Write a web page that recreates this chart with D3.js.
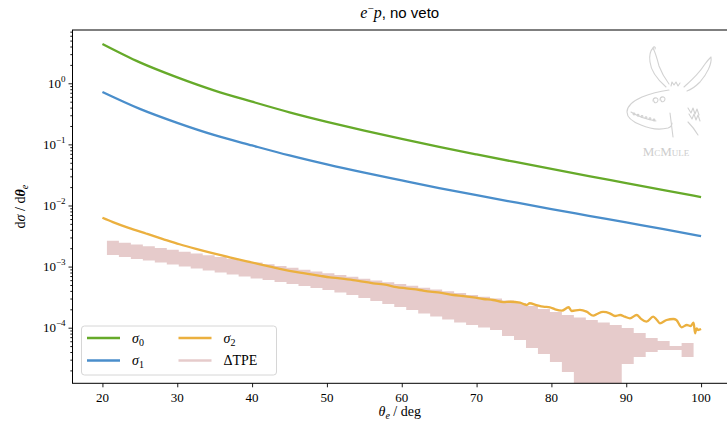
<!DOCTYPE html>
<html>
<head>
<meta charset="utf-8">
<script src="https://cdn.jsdelivr.net/npm/d3@7"></script>
<style>
  body { margin: 0; background: #fff; }
  svg { display: block; }
  .serif { font-family: "Liberation Serif", "DejaVu Serif", serif; }
  .sans { font-family: "Liberation Sans", "DejaVu Sans", sans-serif; }
</style>
</head>
<body>
<svg id="chart" width="727" height="430"></svg>
<script>
// ---- data -------------------------------------------------------------
// scattering angle theta_e (deg) for the smooth LO / NLO curves
const angles = [20, 25, 30, 35, 40, 45, 50, 55, 60, 65, 70, 75, 80, 85, 90, 95, 100];
const sigma0 = [4.4, 2.2, 1.25, 0.76, 0.50, 0.335, 0.234, 0.168, 0.123, 0.091, 0.0685, 0.052, 0.0396, 0.0303, 0.0233, 0.0179, 0.0137];
const sigma1 = [0.72, 0.381, 0.225, 0.1414, 0.096, 0.066, 0.047, 0.0344, 0.0257, 0.0193, 0.01473, 0.01134, 0.00875, 0.00679, 0.00527, 0.0041, 0.00316];

// NNLO contribution (Monte-Carlo, fluctuates at large angles)
const sigma2Angles = [20.0, 21.4, 23.5, 25.9, 28.0, 30.3, 32.5, 34.7, 37.0, 39.3, 41.5, 43.7, 46.4, 49.1, 50.4,
  51.7, 53.5, 54.8, 56.2, 58.0, 59.3, 60.6, 62.4, 63.8, 65.1, 66.9, 68.2, 69.6, 70.9, 72.2, 73.6, 74.5, 75.8,
  76.7, 77.1, 78.0, 78.9, 79.8, 80.5, 81.4, 82.3, 82.7, 83.8, 84.7, 85.6, 86.1, 86.9, 87.8, 88.5, 89.2, 89.8,
  90.5, 91.4, 91.9, 92.7, 93.6, 94.1, 94.5, 95.4, 96.3, 96.7, 97.4, 98.1, 98.6, 99.0, 99.2, 99.4, 99.6, 100.0];
const sigma2 = [6.3e-3, 5.35e-3, 4.3e-3, 3.45e-3, 2.85e-3, 2.32e-3, 1.95e-3, 1.66e-3, 1.42e-3, 1.22e-3, 1.06e-3, 9.2e-4, 7.95e-4, 7.05e-4, 6.68e-4,
  6.43e-4, 6.03e-4, 5.66e-4, 5.33e-4, 5.00e-4, 4.62e-4, 4.41e-4, 4.14e-4, 3.88e-4, 3.74e-4, 3.43e-4, 3.30e-4, 3.14e-4, 2.95e-4, 2.84e-4, 2.62e-4, 2.66e-4, 2.565e-4,
  2.35e-4, 2.51e-4, 2.35e-4, 2.21e-4, 2.16e-4, 2.00e-4, 1.90e-4, 2.16e-4, 1.876e-4, 1.95e-4, 1.83e-4, 1.572e-4, 1.676e-4, 1.81e-4, 1.72e-4, 1.554e-4, 1.614e-4, 1.514e-4,
  1.424e-4, 1.614e-4, 1.424e-4, 1.253e-4, 1.514e-4, 1.336e-4, 1.18e-4, 1.336e-4, 1.388e-4, 1.336e-4, 1.015e-4, 1.107e-4, 1.066e-4, 1.207e-4, 8.10e-5, 9.78e-5, 9.17e-5, 9.5e-5];

// two-photon-exchange uncertainty band: bin edges and band limits per bin
const tpeEdges = [20.6, 22.2, 23.8, 25.4, 27.0, 28.6, 30.2, 31.8, 33.4, 35.0, 36.6, 38.2, 39.8, 41.4, 43.0, 44.6, 46.2,
  47.8, 49.4, 51.0, 52.6, 54.2, 55.8, 57.4, 59.0, 60.6, 62.2, 63.8, 65.4, 67.0, 68.6, 70.2, 71.8, 73.4, 75.0, 76.6,
  78.2, 79.8, 81.4, 83.0, 84.6, 86.2, 87.8, 89.4, 91.0, 92.6, 94.2, 95.8, 97.4, 99.0];
const tpeHigh = [2.64e-3, 2.46e-3, 2.30e-3, 2.15e-3, 2.01e-3, 1.88e-3, 1.75e-3, 1.64e-3, 1.53e-3, 1.43e-3,
  1.34e-3, 1.25e-3, 1.17e-3, 1.09e-3, 1.02e-3, 9.53e-4, 8.91e-4, 8.32e-4, 7.78e-4, 7.27e-4,
  6.79e-4, 6.34e-4, 5.93e-4, 5.54e-4, 5.18e-4, 4.84e-4, 4.52e-4, 4.22e-4, 3.95e-4, 3.69e-4,
  3.44e-4, 3.22e-4, 3.01e-4, 2.79e-4, 2.54e-4, 2.27e-4, 2.02e-4, 1.81e-4, 1.61e-4, 1.47e-4,
  1.34e-4, 1.22e-4, 1.11e-4, 9.89e-5, 8.19e-5, 6.78e-5, 6.05e-5, 5.02e-5, 5.62e-5];
const tpeLow = [1.55e-3, 1.44e-3, 1.33e-3, 1.26e-3, 1.17e-3, 1.08e-3, 1.00e-3, 9.31e-4, 8.63e-4, 8.00e-4,
  7.43e-4, 6.89e-4, 6.38e-4, 6.03e-4, 5.60e-4, 5.19e-4, 4.82e-4, 4.47e-4, 4.14e-4, 3.77e-4,
  3.43e-4, 3.06e-4, 2.73e-4, 2.44e-4, 2.18e-4, 1.95e-4, 1.71e-4, 1.52e-4, 1.36e-4, 1.22e-4,
  1.11e-4, 1.01e-4, 9.17e-5, 7.31e-5, 6.29e-5, 4.65e-5, 3.71e-5, 2.74e-5, 1.88e-5, 5e-6,
  5e-6, 5e-6, 5e-6, 2.55e-5, 3.31e-5, 4.00e-5, 4.31e-5, 4.31e-5, 3.31e-5];

const xTicks = [20, 30, 40, 50, 60, 70, 80, 90, 100];
const yTickExponents = [0, -1, -2, -3, -4];

// ---- layout -----------------------------------------------------------
const plot = { left: 72.5, top: 30, right: 731, bottom: 383.3 };
const colors = { s0: "#66aa2a", s1: "#4a8ecb", s2: "#ebb03f", tpe: "#e6cbcb" };

const svg = d3.select("#chart");
const x = d3.scaleLinear().domain([16, 104]).range([plot.left, plot.right]);
const y = d3.scaleLog().domain([1.23e-5, 7.45]).range([plot.bottom, plot.top]);

svg.append("defs").append("clipPath").attr("id", "plotClip")
  .append("rect")
  .attr("x", plot.left).attr("y", plot.top)
  .attr("width", plot.right - plot.left).attr("height", plot.bottom - plot.top);

const layer = svg.append("g").attr("clip-path", "url(#plotClip)");

// ---- McMule watermark ----------------------------------------------------
const logo = svg.append("g")
  .attr("fill", "none").attr("stroke", "#d2d2d2").attr("stroke-width", 1.1)
  .attr("stroke-linecap", "round").attr("stroke-linejoin", "round");
const sketch = [
  // left ear
  "M666,87 C658,80 651,72 650,62 C649,55 651,50 653,48 C655,52 657,58 659,66 C662,74 666,80 669,84",
  "M653,48 C654,46 656,47 655,49",
  // right ear
  "M684,87 C692,80 700,72 705,64 C707,61 709,59 711,57 C712,64 707,74 700,82 C695,87 690,90 687,91",
  // tuft
  "M671,86 L672,82 L674,85 L676,82 L678,86 L680,83",
  // head / snout
  "M669,90 C662,91 652,93 642,97 C633,101 627,106 627,112 C627,118 633,122 641,125 C650,129 660,130 668,128 C671,127 672,125 672,123",
  "M631,112 C637,116 645,119 656,121",
  // eyes
  "M653,101 C653,97 658,97 658,100 C658,103 654,104 654,101",
  "M660,100 C660,96 665,96 665,99 C665,102 661,103 661,100",
  // whiskers / mane on the right
  "M688,108 L691,113 L693,108 L695,114 L697,109 L699,115",
  "M689,114 L692,119 L694,114 L696,120 L698,115 L700,121",
  // jaw lines
  "M670,113 C671,121 672,129 673,137",
  "M688,122 C692,126 695,130 698,135"
];
sketch.forEach(d => logo.append("path").attr("d", d));
// teeth
[634, 638, 642, 646, 650, 654].forEach((tx, i) => {
  logo.append("circle").attr("cx", tx).attr("cy", 114 + i * 1.2).attr("r", 0.9);
});
svg.append("text")
  .attr("class", "serif")
  .attr("x", 666).attr("y", 156)
  .attr("text-anchor", "middle")
  .attr("font-size", 13)
  .attr("fill", "#cdcdcd")
  .style("font-variant", "small-caps")
  .text("McMule");

// ---- TPE band -----------------------------------------------------------
const bandPoints = tpeLow.map((lo, i) => ({ a: tpeEdges[i], lo, hi: tpeHigh[i] }));
bandPoints.push({ a: tpeEdges[tpeEdges.length - 1], lo: tpeLow[tpeLow.length - 1], hi: tpeHigh[tpeHigh.length - 1] });
layer.append("path")
  .datum(bandPoints)
  .attr("fill", colors.tpe)
  .attr("stroke", "none")
  .attr("d", d3.area()
    .curve(d3.curveStepAfter)
    .x(d => x(d.a))
    .y0(d => y(d.lo))
    .y1(d => y(d.hi)));

// ---- curves -------------------------------------------------------------
const line = d3.line().curve(d3.curveMonotoneX).x(d => x(d[0])).y(d => y(d[1]));
const series = [
  { pts: angles.map((a, i) => [a, sigma0[i]]), color: colors.s0 },
  { pts: angles.map((a, i) => [a, sigma1[i]]), color: colors.s1 },
  { pts: sigma2Angles.map((a, i) => [a, sigma2[i]]), color: colors.s2 }
];
series.forEach(s => {
  layer.append("path")
    .datum(s.pts)
    .attr("fill", "none")
    .attr("stroke", s.color)
    .attr("stroke-width", 2.3)
    .attr("stroke-linejoin", "round")
    .attr("d", line);
});

// ---- axes ---------------------------------------------------------------
const axisColor = "#000";
// frame
svg.append("rect")
  .attr("x", plot.left).attr("y", plot.top)
  .attr("width", plot.right - plot.left).attr("height", plot.bottom - plot.top)
  .attr("fill", "none").attr("stroke", axisColor).attr("stroke-width", 1);

const xAxis = svg.append("g")
  .attr("transform", `translate(0,${plot.bottom})`)
  .call(d3.axisBottom(x).tickValues(xTicks).tickSize(4).tickFormat(""));
xAxis.select(".domain").remove();
xAxis.selectAll(".tick line").attr("stroke", axisColor);
xTicks.forEach(t => {
  svg.append("text").attr("class", "serif")
    .attr("x", x(t)).attr("y", plot.bottom + 19)
    .attr("text-anchor", "middle").attr("font-size", 13).attr("fill", "#000")
    .text(t);
});

// y axis: decade ticks and log minor ticks
const minorVals = [];
for (let e = -6; e <= 1; e++) {
  for (let m = 2; m <= 9; m++) {
    const v = m * Math.pow(10, e);
    if (v > y.domain()[0] && v < y.domain()[1]) minorVals.push(v);
  }
}
const majorVals = yTickExponents.map(e => Math.pow(10, e));
const yMajor = svg.append("g").attr("transform", `translate(${plot.left},0)`)
  .call(d3.axisLeft(y).tickValues(majorVals).tickSize(4).tickFormat(""));
yMajor.select(".domain").remove();
const yMinor = svg.append("g").attr("transform", `translate(${plot.left},0)`)
  .call(d3.axisLeft(y).tickValues(minorVals).tickSize(2.2).tickFormat(""));
yMinor.select(".domain").remove();
svg.selectAll(".tick line").attr("stroke", axisColor).attr("stroke-width", 0.9);

yTickExponents.forEach(e => {
  const t = svg.append("text").attr("class", "serif")
    .attr("x", plot.left - 7).attr("y", y(Math.pow(10, e)) + 4.5)
    .attr("text-anchor", "end").attr("font-size", 13).attr("fill", "#000");
  t.append("tspan").text("10");
  t.append("tspan").attr("dy", -6).attr("font-size", 9).text(e === 0 ? "0" : "\u2212" + (-e));
});

// axis labels
const xl = svg.append("text").attr("class", "serif")
  .attr("x", (plot.left + plot.right) / 2 - 2).attr("y", 416)
  .attr("text-anchor", "middle").attr("font-size", 14).attr("fill", "#000");
xl.append("tspan").attr("font-style", "italic").text("\u03b8");
xl.append("tspan").attr("font-style", "italic").attr("font-size", 10).attr("dy", 3).text("e");
xl.append("tspan").attr("dy", -3).text(" / deg");

const yl = svg.append("text").attr("class", "serif")
  .attr("transform", `translate(25,${(plot.top + plot.bottom) / 2}) rotate(-90)`)
  .attr("text-anchor", "middle").attr("font-size", 14).attr("fill", "#000");
yl.append("tspan").text("d");
yl.append("tspan").attr("font-style", "italic").text("\u03c3");
yl.append("tspan").text(" / d");
yl.append("tspan").attr("font-style", "italic").attr("font-weight", "bold").text("\u03b8");
yl.append("tspan").attr("font-style", "italic").attr("font-size", 10).attr("dy", 3).text("e");

// title
const title = svg.append("text")
  .attr("x", (plot.left + plot.right) / 2 - 2).attr("y", 18)
  .attr("text-anchor", "middle").attr("font-size", 16).attr("fill", "#000");
title.append("tspan").attr("class", "serif").attr("font-style", "italic").text("e");
title.append("tspan").attr("class", "serif").attr("font-size", 11).attr("dy", -6).text("\u2212");
title.append("tspan").attr("class", "serif").attr("font-style", "italic").attr("dy", 6).text("p");
title.append("tspan").attr("class", "sans").attr("font-size", 15).text(", no veto");

// ---- legend ---------------------------------------------------------------
const legend = svg.append("g");
legend.append("rect")
  .attr("x", 81.5).attr("y", 326).attr("width", 195).attr("height", 49)
  .attr("rx", 3).attr("fill", "#fff").attr("fill-opacity", 0.85)
  .attr("stroke", "#d6d6d6").attr("stroke-width", 1);
const entries = [
  { col: 0, row: 0, color: colors.s0, sym: "\u03c3", sub: "0" },
  { col: 0, row: 1, color: colors.s1, sym: "\u03c3", sub: "1" },
  { col: 1, row: 0, color: colors.s2, sym: "\u03c3", sub: "2" },
  { col: 1, row: 1, color: colors.tpe, sym: "\u0394TPE", sub: null }
];
entries.forEach(en => {
  const lx = 87 + en.col * 91.5;
  const ly = 338 + en.row * 22.5;
  legend.append("line")
    .attr("x1", lx).attr("x2", lx + 33).attr("y1", ly).attr("y2", ly)
    .attr("stroke", en.color).attr("stroke-width", 2.5);
  const t = legend.append("text").attr("class", "serif")
    .attr("x", lx + 45).attr("y", ly + 4.5).attr("font-size", 14).attr("fill", "#000");
  if (en.sub !== null) {
    t.append("tspan").attr("font-style", "italic").text(en.sym);
    t.append("tspan").attr("font-size", 10).attr("dy", 3).text(en.sub);
  } else {
    t.text(en.sym);
  }
});
</script>
</body>
</html>
